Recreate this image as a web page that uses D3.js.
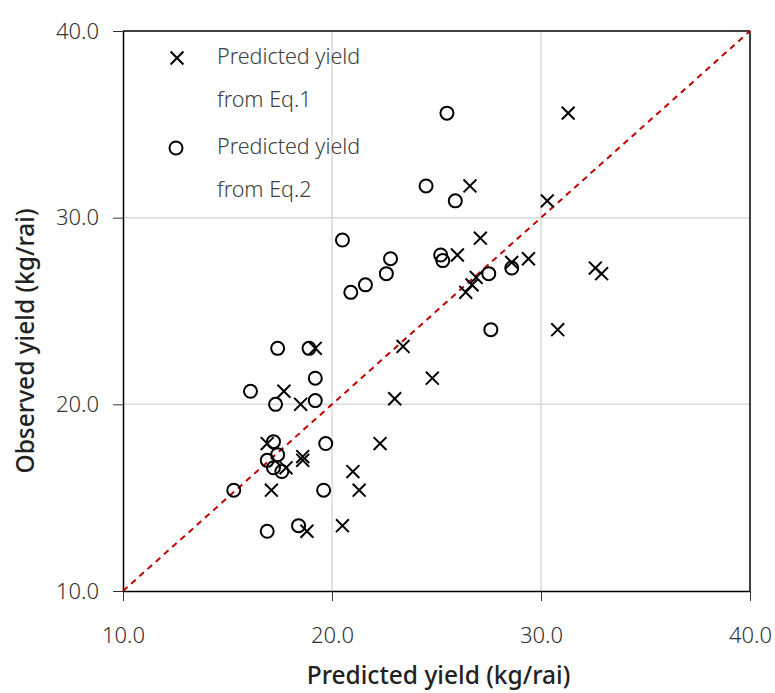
<!DOCTYPE html>
<html>
<head>
<meta charset="utf-8">
<script src="https://cdn.jsdelivr.net/npm/d3@7"></script>
<style>
  body { margin: 0; background: #fff; }
  svg text { font-family: "Noto Sans", sans-serif; }
</style>
</head>
<body>
<div id="chart"></div>
<script>
// Predicted (x) vs observed (y) yield, kg/rai
const eq1X = [31.3, 26.6, 30.3, 27.1, 26.0, 29.4, 28.6, 32.6, 32.9, 26.9, 26.7, 26.4, 30.8,
              19.2, 23.4, 17.7, 18.5, 24.8, 23.0, 16.9, 18.6, 18.6, 17.8, 21.0, 17.1, 21.3,
              22.3, 18.8, 20.5];
const eq1Y = [35.6, 31.7, 30.9, 28.9, 28.0, 27.8, 27.6, 27.3, 27.0, 26.8, 26.4, 26.0, 24.0,
              23.0, 23.1, 20.7, 20.0, 21.4, 20.3, 17.9, 17.2, 17.0, 16.6, 16.4, 15.4, 15.4,
              17.9, 13.2, 13.5];
const eq2X = [25.5, 24.5, 25.9, 20.5, 22.8, 25.2, 25.3, 22.6, 21.6, 20.9, 27.5, 28.6, 27.6,
              17.4, 18.9, 16.1, 19.2, 19.2, 17.3, 19.7, 17.2, 17.4, 16.9, 17.2, 17.6, 15.3,
              19.6, 16.9, 18.4];
const eq2Y = [35.6, 31.7, 30.9, 28.8, 27.8, 28.0, 27.7, 27.0, 26.4, 26.0, 27.0, 27.3, 24.0,
              23.0, 23.0, 20.7, 21.4, 20.2, 20.0, 17.9, 18.0, 17.3, 17.0, 16.6, 16.4, 15.4,
              15.4, 13.2, 13.5];
const ticks = [10, 20, 30, 40];
const legendLines = [["Predicted yield", "from Eq.1"], ["Predicted yield", "from Eq.2"]];

const width = 775, height = 693;
const margin = { top: 31, right: 25, bottom: 102, left: 123 };
const w = width - margin.left - margin.right;
const h = height - margin.top - margin.bottom;

const svg = d3.select('#chart').append('svg')
    .attr('width', width)
    .attr('height', height);

const g = svg.append('g')
    .attr('transform', `translate(${margin.left}, ${margin.top})`);

const x = d3.scaleLinear().domain([10, 40]).range([0, w]);
const y = d3.scaleLinear().domain([10, 40]).range([h, 0]);

// gridlines
g.selectAll('.vgrid').data(ticks.slice(1, -1)).enter().append('line')
    .attr('x1', d => x(d)).attr('x2', d => x(d))
    .attr('y1', 0).attr('y2', h)
    .attr('stroke', '#d9d9d9').attr('stroke-width', 1.5);
g.selectAll('.hgrid').data(ticks.slice(1, -1)).enter().append('line')
    .attr('y1', d => y(d)).attr('y2', d => y(d))
    .attr('x1', 0).attr('x2', w)
    .attr('stroke', '#d9d9d9').attr('stroke-width', 1.5);

// frame top / right
g.append('line').attr('x1', 0).attr('x2', w).attr('y1', 0).attr('y2', 0)
    .attr('stroke', '#000').attr('stroke-width', 1.5);
g.append('line').attr('x1', w).attr('x2', w).attr('y1', 0).attr('y2', h)
    .attr('stroke', '#000').attr('stroke-width', 1.5);

// axes
const fmt = d3.format('.1f');
const xAxis = g.append('g')
    .attr('transform', `translate(0, ${h})`)
    .call(d3.axisBottom(x).tickValues(ticks).tickFormat(fmt).tickSize(10).tickSizeOuter(0).tickPadding(26));
const yAxis = g.append('g')
    .call(d3.axisLeft(y).tickValues(ticks).tickFormat(fmt).tickSize(10).tickSizeOuter(0).tickPadding(26));

[xAxis, yAxis].forEach(a => {
    a.select('.domain').attr('stroke', '#000').attr('stroke-width', 1.5);
    a.selectAll('.tick line').attr('stroke', '#333').attr('stroke-width', 1);
    a.selectAll('.tick text')
        .attr('fill', '#333')
        .style('font-size', '22px')
        .style('font-weight', '300');
});
yAxis.selectAll('.tick text').attr('dx', 12);

// 1:1 line
g.append('line')
    .attr('x1', x(10)).attr('y1', y(10))
    .attr('x2', x(40)).attr('y2', y(40))
    .attr('stroke', '#c00000').attr('stroke-width', 2)
    .attr('stroke-dasharray', '6,5');

// markers
const cross = d3.symbol().type(d3.symbolTimes).size(110);
g.selectAll('.eq1').data(eq1X).enter().append('path')
    .attr('class', 'eq1')
    .attr('d', cross)
    .attr('transform', (d, i) => `translate(${x(d)}, ${y(eq1Y[i])})`)
    .attr('fill', 'none')
    .attr('stroke', '#000')
    .attr('stroke-width', 2);

g.selectAll('.eq2').data(eq2X).enter().append('circle')
    .attr('class', 'eq2')
    .attr('cx', d => x(d))
    .attr('cy', (d, i) => y(eq2Y[i]))
    .attr('r', 6.5)
    .attr('fill', 'none')
    .attr('stroke', '#000')
    .attr('stroke-width', 2);

// legend
const legend = svg.append('g');
legendLines.forEach((lines, i) => {
    const yy = 58 + i * 90;
    if (i === 0) {
        legend.append('path').attr('d', cross)
            .attr('transform', `translate(177, ${yy})`)
            .attr('fill', 'none').attr('stroke', '#000').attr('stroke-width', 2);
    } else {
        legend.append('circle').attr('cx', 176).attr('cy', yy).attr('r', 6.5)
            .attr('fill', 'none').attr('stroke', '#000').attr('stroke-width', 2);
    }
    lines.forEach((t, j) => {
        legend.append('text')
            .attr('x', 217).attr('y', yy + 6 + j * 43)
            .attr('fill', '#404040')
            .style('font-size', '21.5px')
            .style('font-weight', '300')
            .text(t);
    });
});

// axis titles
svg.append('text')
    .attr('x', margin.left + w / 2 + 2).attr('y', 684)
    .attr('text-anchor', 'middle')
    .attr('fill', '#222')
    .style('font-size', '24.5px')
    .style('font-weight', '500')
    .text('Predicted yield (kg/rai)');
svg.append('text')
    .attr('transform', `translate(34, ${margin.top + h / 2 + 30}) rotate(-90)`)
    .attr('text-anchor', 'middle')
    .attr('fill', '#222')
    .style('font-size', '24.5px')
    .style('font-weight', '500')
    .text('Observed yield (kg/rai)');
</script>
</body>
</html>
